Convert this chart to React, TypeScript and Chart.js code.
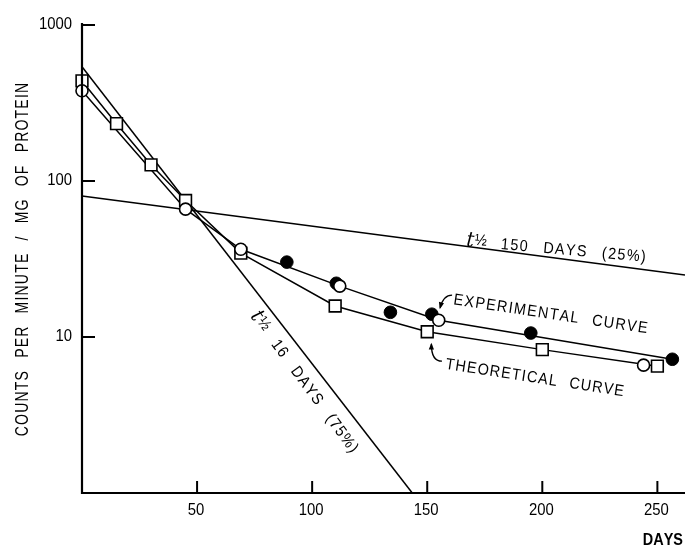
import React, { useEffect, useRef } from 'react';
import { Chart, registerables } from 'chart.js';
Chart.register(...registerables);

// ---- data (days, counts per minute / mg of protein) ----
const theoreticalDays = [0, 15, 30, 45, 69, 110, 150, 200, 250];
const theoreticalCounts = [438, 233, 127, 75, 34.5, 15.8, 10.8, 8.3, 6.5];

const expOpenDays = [0, 45, 69, 112, 155, 244];
const expOpenCounts = [379, 66, 36.5, 21.2, 12.8, 6.6];

const expFilledDays = [89, 110.5, 134, 152, 195, 256.5];
const expFilledCounts = [30.2, 22.1, 14.4, 14.0, 10.6, 7.2];

const expCurveDays = [0, 45, 69, 112, 155, 256.5];
const expCurveCounts = [379, 66, 36.5, 21.2, 12.8, 7.2];

const half16Days = [0, 143.5];
const half16Counts = [540, 1];
const half150Days = [0, 262];
const half150Counts = [80, 25];

const xTicks = [50, 100, 150, 200, 250];
const yTicks = [10, 100, 1000];
const yTickLabels = ['10', '100', '1000'];

const yTitle = 'COUNTS PER MINUTE / MG OF PROTEIN';
const xTitle = 'DAYS';

const pts = (xs: number[], ys: number[]) => xs.map((x, i) => ({ x, y: ys[i] }));

const SANS = '"Liberation Sans", Arial, sans-serif';

type Part = { text: string; font: string; ls?: number; ws?: number; dy?: number };

function partWidth(ctx: CanvasRenderingContext2D, p: Part) {
  ctx.font = p.font;
  let w = 0;
  for (const ch of Array.from(p.text)) {
    w += ctx.measureText(ch).width + (p.ls || 0) + (ch === ' ' ? p.ws || 0 : 0);
  }
  return w;
}

function drawRich(
  ctx: CanvasRenderingContext2D,
  parts: Part[],
  x: number,
  y: number,
  angle: number,
  sx: number,
  align: 'left' | 'center' | 'right' = 'left'
) {
  ctx.save();
  (ctx as any).letterSpacing = '0px';
  ctx.translate(x, y);
  ctx.rotate(angle);
  ctx.scale(sx, 1);
  ctx.textBaseline = 'alphabetic';
  ctx.textAlign = 'left';
  ctx.fillStyle = '#000';
  let w = 0;
  for (const p of parts) w += partWidth(ctx, p);
  let cx = align === 'left' ? 0 : align === 'center' ? -w / 2 : -w;
  for (const p of parts) {
    ctx.font = p.font;
    for (const ch of Array.from(p.text)) {
      if (ch !== ' ') ctx.fillText(ch, cx, p.dy || 0);
      cx += ctx.measureText(ch).width + (p.ls || 0) + (ch === ' ' ? p.ws || 0 : 0);
    }
  }
  ctx.restore();
}

function arrow(ctx: CanvasRenderingContext2D, a: number[], c: number[], b: number[]) {
  ctx.save();
  ctx.strokeStyle = '#000';
  ctx.fillStyle = '#000';
  ctx.lineWidth = 1.4;
  ctx.beginPath();
  ctx.moveTo(a[0], a[1]);
  ctx.quadraticCurveTo(c[0], c[1], b[0], b[1]);
  ctx.stroke();
  const ang = Math.atan2(b[1] - c[1], b[0] - c[0]);
  const L = 6;
  ctx.beginPath();
  ctx.moveTo(b[0] + Math.cos(ang) * 1.5, b[1] + Math.sin(ang) * 1.5);
  ctx.lineTo(b[0] - L * Math.cos(ang - 0.45), b[1] - L * Math.sin(ang - 0.45));
  ctx.lineTo(b[0] - L * Math.cos(ang + 0.45), b[1] - L * Math.sin(ang + 0.45));
  ctx.closePath();
  ctx.fill();
  ctx.restore();
}

const decorPlugin = {
  id: 'decor',
  afterDraw(chart: any) {
    const ctx: CanvasRenderingContext2D = chart.ctx;
    const xs = chart.scales.x;
    const ys = chart.scales.y;
    const area = chart.chartArea;
    const P = (d: number, v: number) => [xs.getPixelForValue(d), ys.getPixelForValue(v)];

    ctx.save();
    // axes
    ctx.strokeStyle = '#000';
    ctx.lineWidth = 2.2;
    ctx.beginPath();
    ctx.moveTo(area.left, area.top - 2);
    ctx.lineTo(area.left, area.bottom);
    ctx.lineTo(area.right, area.bottom);
    ctx.stroke();

    // inward ticks
    ctx.lineWidth = 2;
    for (const v of yTicks) {
      const y = ys.getPixelForValue(v);
      ctx.beginPath();
      ctx.moveTo(area.left, y);
      ctx.lineTo(area.left + 13, y);
      ctx.stroke();
    }
    for (const v of xTicks) {
      const x = xs.getPixelForValue(v);
      ctx.beginPath();
      ctx.moveTo(x, area.bottom);
      ctx.lineTo(x, area.bottom - 12);
      ctx.stroke();
    }
    ctx.restore();

    // tick labels
    const tickFont = `16px ${SANS}`;
    yTicks.forEach((v, i) => {
      const y = ys.getPixelForValue(v);
      drawRich(ctx, [{ text: yTickLabels[i], font: tickFont }], area.left - 10, y + 4, 0, 0.93, 'right');
    });
    xTicks.forEach((v) => {
      const x = xs.getPixelForValue(v);
      drawRich(ctx, [{ text: String(v), font: tickFont }], x - 1, area.bottom + 22, 0, 0.93, 'center');
    });

    // axis titles
    drawRich(
      ctx,
      [{ text: yTitle, font: `18px ${SANS}`, ls: 1.5, ws: 9 }],
      28,
      (area.top + area.bottom) / 2,
      -Math.PI / 2,
      0.78,
      'center'
    );
    drawRich(ctx, [{ text: xTitle, font: `bold 17px ${SANS}` }], chart.width - 2, chart.height - 1, 0, 0.85, 'right');

    // annotations
    const tFont = 'italic 21px "DejaVu Serif", serif';
    const body = `16px ${SANS}`;
    const half = (rest: string): Part[] => [
      { text: 't', font: tFont, ls: 1 },
      { text: '½', font: `16px ${SANS}`, dy: -2 },
      { text: rest, font: body, ls: 1.5, ws: 10 },
    ];
    const a150 = P(166.8, 38.3);
    drawRich(ctx, half(' 150 DAYS (25%)'), a150[0], a150[1], (5 * Math.PI) / 180, 0.9);
    const a16 = P(73, 13.6);
    drawRich(ctx, half(' 16 DAYS (75%)'), a16[0], a16[1], (53.7 * Math.PI) / 180, 0.9);

    const aExp = P(161.2, 16.2);
    drawRich(ctx, [{ text: 'EXPERIMENTAL CURVE', font: body, ls: 1.5, ws: 8 }], aExp[0], aExp[1], (8.5 * Math.PI) / 180, 0.9);
    const aTh = P(157.7, 6.25);
    drawRich(ctx, [{ text: 'THEORETICAL CURVE', font: body, ls: 1.3, ws: 7 }], aTh[0], aTh[1], (8.7 * Math.PI) / 180, 0.9);

    // pointer arrows
    arrow(ctx, P(160.8, 18.55), P(157, 18.55), P(155.6, 15.4));
    arrow(ctx, P(156.4, 7.0), P(151.8, 7.0), P(151.8, 9.0));
  },
};

export default function App() {
  const ref = useRef<HTMLCanvasElement | null>(null);

  useEffect(() => {
    if (!ref.current) return;
    const lineDs = (label: string, xs: number[], ys: number[], order: number) => ({
      label,
      data: pts(xs, ys),
      showLine: true,
      borderColor: '#000',
      borderWidth: 1.5,
      pointRadius: 0,
      pointHoverRadius: 0,
      clip: false as any,
      order,
    });
    const chart = new Chart(ref.current, {
      type: 'scatter',
      data: {
        datasets: [
          {
            label: 'Experimental (open)',
            data: pts(expOpenDays, expOpenCounts),
            showLine: false,
            pointStyle: 'circle',
            pointRadius: 6,
            pointBackgroundColor: '#fff',
            pointBorderColor: '#000',
            pointBorderWidth: 1.6,
            clip: false as any,
            order: 1,
          },
          {
            label: 'Experimental (filled)',
            data: pts(expFilledDays, expFilledCounts),
            showLine: false,
            pointStyle: 'circle',
            pointRadius: 6.3,
            pointBackgroundColor: '#000',
            pointBorderColor: '#000',
            pointBorderWidth: 1,
            clip: false as any,
            order: 1,
          },
          {
            label: 'Theoretical curve',
            data: pts(theoreticalDays, theoreticalCounts),
            showLine: true,
            borderColor: '#000',
            borderWidth: 1.5,
            pointStyle: 'rect',
            pointRadius: 8.3,
            pointBackgroundColor: '#fff',
            pointBorderColor: '#000',
            pointBorderWidth: 1.6,
            clip: false as any,
            order: 2,
          },
          lineDs('Experimental curve', expCurveDays, expCurveCounts, 3),
          lineDs('t½ 16 days', half16Days, half16Counts, 4),
          lineDs('t½ 150 days', half150Days, half150Counts, 4),
        ] as any,
      },
      options: {
        animation: false,
        responsive: false,
        devicePixelRatio: 1,
        layout: { autoPadding: false, padding: { top: 25, left: 0, right: 0, bottom: 0 } },
        plugins: { legend: { display: false }, tooltip: { enabled: false } },
        events: [],
        scales: {
          x: {
            type: 'linear',
            min: 0,
            max: 262,
            grid: { display: false },
            border: { display: false },
            ticks: { display: false },
            afterFit: (s: any) => {
              s.height = 53;
            },
          },
          y: {
            type: 'logarithmic',
            min: 1,
            max: 1000,
            grid: { display: false },
            border: { display: false },
            ticks: { display: false },
            afterFit: (s: any) => {
              s.width = 82;
            },
          },
        },
      } as any,
      plugins: [decorPlugin],
    });
    return () => chart.destroy();
  }, []);

  return (
    <div style={{ position: 'fixed', left: 0, top: 0, width: 685, height: 546, background: '#fff' }}>
      <canvas ref={ref} width={685} height={546} style={{ display: 'block' }} />
    </div>
  );
}
